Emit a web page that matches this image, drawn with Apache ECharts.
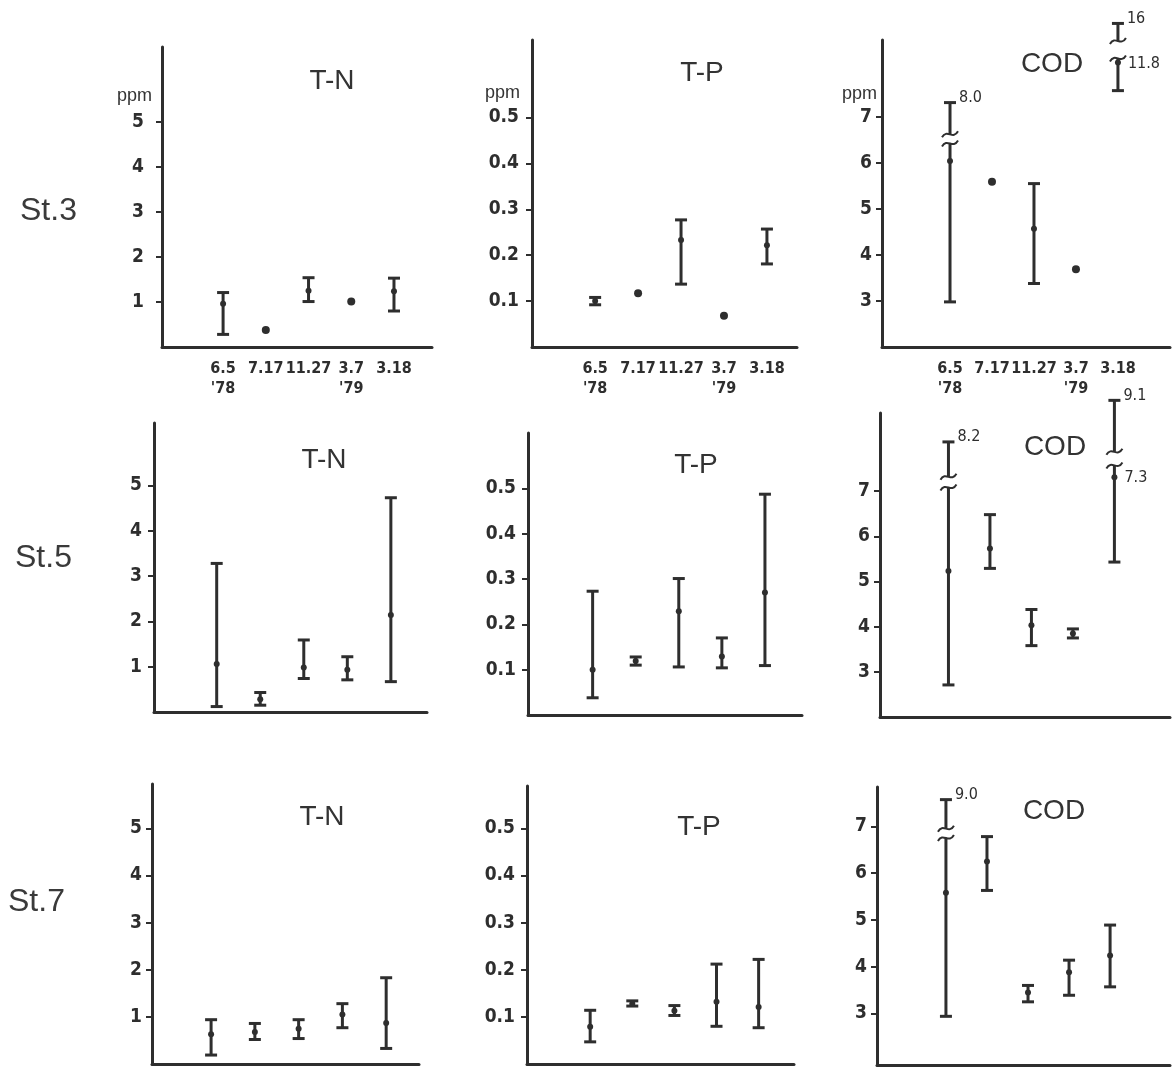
<!DOCTYPE html>
<html><head><meta charset="utf-8">
<script src="https://cdn.jsdelivr.net/npm/echarts@6/dist/echarts.min.js"></script>
<style>html,body{margin:0;padding:0;background:#fff}#c{width:1176px;height:1072px}</style>
</head><body><div id="c"></div>
<script>
// ---------- categories / labels ----------
const dates = ["6.5\n'78", "7.17", "11.27", "3.7\n'79", "3.18"];
const stations = ["St.3", "St.5", "St.7"];
const params = ["T-N", "T-P", "COD"];
const tnTicks = [1, 2, 3, 4, 5];
const tpTicks = [0.1, 0.2, 0.3, 0.4, 0.5];
const codTicks = [3, 4, 5, 6, 7];

// ---------- St.3 ----------
const st3_TN_mid = [0.96, 0.38, 1.25, 1.01, 1.24];
const st3_TN_lo  = [0.28, null, 1.01, null, 0.80];
const st3_TN_hi  = [1.21, null, 1.54, null, 1.53];
const st3_TP_mid = [0.100, 0.117, 0.233, 0.068, 0.222];
const st3_TP_lo  = [0.092, null, 0.137, null, 0.181];
const st3_TP_hi  = [0.108, null, 0.277, null, 0.257];
const st3_COD_mid = [6.04, 5.59, 4.57, 3.69, 8.18];
const st3_COD_lo  = [2.98, null, 3.38, null, 7.57];
const st3_COD_hi  = [7.31, null, 5.55, null, 9.03];
const st3_COD_breaks = [
  {i: 0, gapLo: 6.42, gapHi: 6.62, hiText: "8.0"},
  {i: 4, gapLo: 8.27, gapHi: 8.65, hiText: "16", midText: "11.8"}
];

// ---------- St.5 ----------
const st5_TN_mid = [1.06, 0.28, 0.98, 0.93, 2.14];
const st5_TN_lo  = [0.12, 0.15, 0.74, 0.71, 0.67];
const st5_TN_hi  = [3.28, 0.43, 1.59, 1.22, 4.73];
const st5_TP_mid = [0.100, 0.119, 0.229, 0.129, 0.270];
const st5_TP_lo  = [0.038, 0.110, 0.106, 0.104, 0.109];
const st5_TP_hi  = [0.273, 0.128, 0.301, 0.170, 0.487];
const st5_COD_mid = [5.23, 5.73, 4.03, 3.85, 7.31];
const st5_COD_lo  = [2.71, 5.29, 3.58, 3.75, 5.43];
const st5_COD_hi  = [8.09, 6.48, 4.38, 3.95, 9.01];
const st5_COD_breaks = [
  {i: 0, gapLo: 7.08, gapHi: 7.32, hiText: "8.2"},
  {i: 4, gapLo: 7.57, gapHi: 7.87, hiText: "9.1", midText: "7.3"}
];

// ---------- St.7 ----------
const st7_TN_mid = [0.63, 0.68, 0.75, 1.05, 0.87];
const st7_TN_lo  = [0.19, 0.52, 0.54, 0.77, 0.33];
const st7_TN_hi  = [0.94, 0.86, 0.94, 1.28, 1.83];
const st7_TP_mid = [0.079, 0.128, 0.113, 0.132, 0.121];
const st7_TP_lo  = [0.047, 0.123, 0.103, 0.080, 0.077];
const st7_TP_hi  = [0.114, 0.134, 0.124, 0.212, 0.222];
const st7_COD_mid = [5.58, 6.25, 3.45, 3.88, 4.24];
const st7_COD_lo  = [2.94, 5.63, 3.25, 3.39, 3.57];
const st7_COD_hi  = [7.57, 6.78, 3.60, 4.14, 4.89];
const st7_COD_breaks = [
  {i: 0, gapLo: 6.75, gapHi: 6.95, hiText: "9.0"}
];

// ---------- assemble per panel ----------
const panelsData = [
  [[st3_TN_mid, st3_TN_lo, st3_TN_hi, []], [st3_TP_mid, st3_TP_lo, st3_TP_hi, []], [st3_COD_mid, st3_COD_lo, st3_COD_hi, st3_COD_breaks]],
  [[st5_TN_mid, st5_TN_lo, st5_TN_hi, []], [st5_TP_mid, st5_TP_lo, st5_TP_hi, []], [st5_COD_mid, st5_COD_lo, st5_COD_hi, st5_COD_breaks]],
  [[st7_TN_mid, st7_TN_lo, st7_TN_hi, []], [st7_TP_mid, st7_TP_lo, st7_TP_hi, []], [st7_COD_mid, st7_COD_lo, st7_COD_hi, st7_COD_breaks]]
];
const ticksByCol = [tnTicks, tpTicks, codTicks];

// ---------- layout (pixels / axis extents) ----------
const layout = [
  [{l:162,t:47,w:270,h:300,ymin:0,ymax:6.667,xmin:-1.43,xmax:4.89,lm:18},
   {l:532,t:40,w:265,h:307,ymin:0,ymax:0.669,xmin:-1.47,xmax:4.70,lm:13},
   {l:882,t:40,w:288,h:307,ymin:2,ymax:8.67,xmin:-1.62,xmax:5.24,lm:10}],
  [{l:154,t:423,w:273,h:289,ymin:0,ymax:6.38,xmin:-1.44,xmax:4.83,lm:12},
   {l:528,t:433,w:274,h:282,ymin:0,ymax:0.622,xmin:-1.50,xmax:4.86,lm:12},
   {l:880,t:413,w:290,h:304,ymin:2,ymax:8.73,xmin:-1.65,xmax:5.34,lm:10}],
  [{l:152,t:784,w:267,h:280,ymin:0,ymax:5.94,xmin:-1.35,xmax:4.75,lm:10},
   {l:527,t:786,w:267,h:278,ymin:0,ymax:0.59,xmin:-1.50,xmax:4.84,lm:12},
   {l:877,t:787,w:293,h:278,ymin:1.9,ymax:7.84,xmin:-1.68,xmax:5.46,lm:10}]
];
const titlePos = [
  [[332,81],[702,73],[1052,64]],
  [[324,460],[696,465],[1055,447]],
  [[322,817],[699,827],[1054,811]]
];
const stationPos = [[20,211],[15,558],[8,902]];
const ppmPos = [[152,96],[520,93],[877,94]];

const INK = '#2e2e2e';
const NUMFONT = "'DejaVu Sans Condensed','Liberation Sans Narrow','Roboto Condensed',Roboto,sans-serif";

function ln(x1,y1,x2,y2,w){return {type:'line',shape:{x1,y1,x2,y2},style:{stroke:INK,lineWidth:w||3}};}
function squiggle(x,y){
  return {type:'bezierCurve',shape:{x1:x-8,y1:y+3,cpx1:x-3,cpy1:y-6,cpx2:x+3,cpy2:y+6,x2:x+8,y2:y-3},
          style:{stroke:INK,lineWidth:2,fill:'none'}};
}
function txt(x,y,t){
  return {type:'text',x,y,style:{text:t,font:"16px "+NUMFONT,fill:INK,align:'left',verticalAlign:'middle'}};
}

function makeRender(brks){
  return function(p, api){
    const i = api.value(0), mid = api.value(1), lo = api.value(2), hi = api.value(3), rng = api.value(4);
    const pm = api.coord([i, mid]);
    const x = pm[0];
    const ch = [];
    if (rng) {
      const yl = api.coord([i, lo])[1], yh = api.coord([i, hi])[1];
      const b = brks.find(d => d.i === p.dataIndex);
      if (b) {
        const y1 = api.coord([i, b.gapLo])[1], y2 = api.coord([i, b.gapHi])[1];
        ch.push(ln(x,yl,x,y1), ln(x,y2,x,yh), squiggle(x,y1), squiggle(x,y2));
        if (b.hiText) ch.push(txt(x+9, yh-5, b.hiText));
        if (b.midText) ch.push(txt(x+10, pm[1]+1, b.midText));
      } else {
        ch.push(ln(x,yl,x,yh));
      }
      ch.push(ln(x-6,yl,x+6,yl), ln(x-6,yh,x+6,yh));
      ch.push({type:'circle',shape:{cx:x,cy:pm[1],r:3},style:{fill:INK}});
    } else {
      ch.push({type:'circle',shape:{cx:x,cy:pm[1],r:4},style:{fill:INK}});
    }
    return {type:'group',children:ch};
  };
}

const grid = [], xAxis = [], yAxis = [], series = [], graphic = [];
for (let r = 0; r < 3; r++) {
  for (let c = 0; c < 3; c++) {
    const L = layout[r][c];
    const k = r*3 + c;
    const [mid, lo, hi, brks] = panelsData[r][c];
    const ticks = ticksByCol[c];
    grid.push({left:L.l, top:L.t, width:L.w, height:L.h, containLabel:false});
    xAxis.push({
      type:'value', gridIndex:k, min:L.xmin, max:L.xmax,
      axisLine:{show:true,onZero:false,lineStyle:{color:INK,width:3}},
      axisTick:{show:false}, splitLine:{show:false},
      axisLabel: r === 0 ? {
        show:true, customValues:[0,1,2,3,4], formatter: v => dates[Math.round(v)],
        margin:12, color:INK, fontFamily:NUMFONT, fontWeight:'bold', fontSize:16, lineHeight:20
      } : {show:false}
    });
    yAxis.push({
      type:'value', gridIndex:k, min:L.ymin, max:L.ymax,
      axisLine:{show:true,onZero:false,lineStyle:{color:INK,width:3}},
      axisTick:{show:true,customValues:ticks,length:6,lineStyle:{color:INK,width:2}},
      splitLine:{show:false},
      axisLabel:{show:true,customValues:ticks,margin:L.lm,color:INK,fontFamily:NUMFONT,fontWeight:'bold',fontSize:19,
                 formatter: v => c === 1 ? v.toFixed(1) : String(Math.round(v))}
    });
    const data = mid.map((m, i) => [i, m, lo[i] == null ? m : lo[i], hi[i] == null ? m : hi[i], lo[i] == null ? 0 : 1]);
    series.push({
      type:'custom', xAxisIndex:k, yAxisIndex:k, clip:false, silent:true,
      encode:{x:0, y:1}, data, renderItem: makeRender(brks)
    });
    graphic.push({type:'text', x:titlePos[r][c][0], y:titlePos[r][c][1],
      style:{text:params[c], font:"28px 'Liberation Sans',Arial,sans-serif", fill:'#333', align:'center', verticalAlign:'middle'}});
  }
  graphic.push({type:'text', x:stationPos[r][0], y:stationPos[r][1],
    style:{text:stations[r], font:"32px 'Liberation Sans',Arial,sans-serif", fill:'#3a3a3a', align:'left', verticalAlign:'middle'}});
}
ppmPos.forEach(p => graphic.push({type:'text', x:p[0], y:p[1],
  style:{text:'ppm', font:"18px 'Liberation Sans',Arial,sans-serif", fill:'#333', align:'right', verticalAlign:'middle'}}));

const chart = echarts.init(document.getElementById('c'), null, {renderer:'canvas'});
chart.setOption({backgroundColor:'#ffffff', animation:false, grid, xAxis, yAxis, series, graphic});
</script>
</body></html>
